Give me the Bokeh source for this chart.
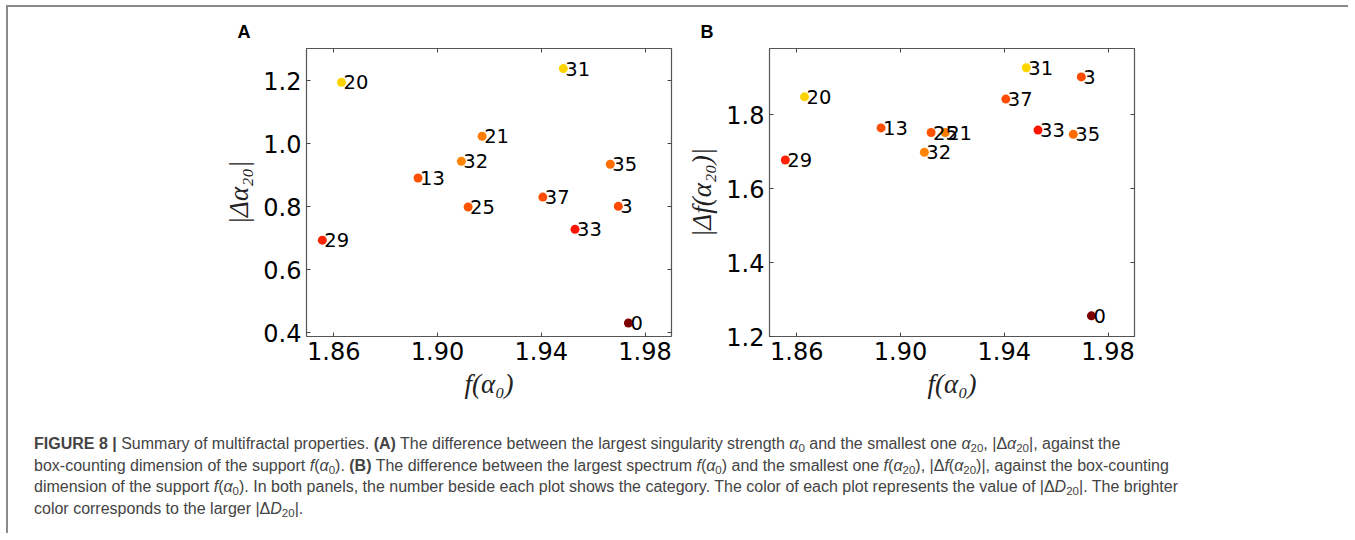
from bokeh.plotting import figure
from bokeh.models import (Range1d, FixedTicker, LinearAxis, Div, ColumnDataSource,
                          PrintfTickFormatter, CustomLabelingPolicy)
from bokeh.layouts import row, column
from bokeh.embed import file_html
from bokeh.resources import INLINE
from bokeh.core.properties import value

# ---- data ----
categories = ["20", "31", "21", "32", "35", "13", "37", "25", "3", "33", "29", "0"]
f_alpha0 = [1.8630, 1.9485, 1.9172, 1.9092, 1.9666, 1.8925, 1.9406, 1.9118, 1.9697, 1.9530, 1.8556, 1.9736]
delta_alpha20 = [1.195, 1.2386, 1.0235, 0.944, 0.9347, 0.891, 0.8303, 0.799, 0.801, 0.728, 0.6935, 0.4303]
delta_f_alpha20 = [1.849, 1.928, 1.7525, 1.699, 1.7475, 1.765, 1.843, 1.7525, 1.903, 1.759, 1.678, 1.256]
colors = ["#fcd200", "#fcd400", "#ff7c00", "#ff8400", "#ff6c00", "#ff5000",
          "#ff4c00", "#ff5400", "#ff4a00", "#ff1400", "#ff2200", "#7d0000"]

x_ticks = [1.86, 1.90, 1.94, 1.98]
ya_ticks = [0.4, 0.6, 0.8, 1.0, 1.2]
yb_ticks = [1.2, 1.4, 1.6, 1.8]

TICK_FONT = "DejaVu Sans"
LABEL_FONT = "Liberation Serif"


def make_panel(letter, yvals, yticks, yrange, ylabel, width, mbl, mbr):
    p = figure(width=width, height=389, output_backend="svg", toolbar_location=None,
               x_range=Range1d(1.8495, 1.9902), y_range=Range1d(*yrange),
               min_border_left=mbl, min_border_right=mbr, min_border_top=0,
               min_border_bottom=70)
    p.grid.visible = False
    p.outline_line_color = "#555555"
    p.outline_line_width = 1.2
    p.background_fill_color = "white"
    p.border_fill_color = "white"

    p.title.text = letter
    p.title.align = "left"
    p.title.offset = -69
    p.title.text_font = "Liberation Sans"
    p.title.text_font_size = "18px"
    p.title.text_font_style = "bold"
    p.title.text_color = "black"
    p.title.standoff = 5

    xt = FixedTicker(ticks=x_ticks)
    yt = FixedTicker(ticks=yticks)
    bottom = p.xaxis[0]
    left = p.yaxis[0]
    bottom.ticker = xt
    left.ticker = yt
    bottom.formatter = PrintfTickFormatter(format="%.2f")
    left.formatter = PrintfTickFormatter(format="%.1f")
    bottom.axis_label = "f(α₀)"
    left.axis_label = ylabel

    hide = CustomLabelingPolicy(code="return new Set()")
    top = LinearAxis(ticker=xt, major_label_policy=hide, major_label_standoff=0,
                     major_label_text_font_size="1px")
    right = LinearAxis(ticker=yt, major_label_policy=hide, major_label_standoff=0,
                       major_label_text_font_size="1px")
    p.add_layout(top, "above")
    p.add_layout(right, "right")

    for ax in [bottom, left, top, right]:
        ax.major_tick_in = 4
        ax.major_tick_out = 0
        ax.minor_tick_line_color = None
        ax.axis_line_color = None
        ax.major_tick_line_color = "#444444"
        ax.major_tick_line_width = 1
    for ax in [bottom, left]:
        ax.major_label_text_font = TICK_FONT
        ax.major_label_text_font_size = "24px"
        ax.major_label_text_color = "black"
        ax.major_label_standoff = 5
        ax.axis_label_text_font = LABEL_FONT
        ax.axis_label_text_font_style = "italic"
        ax.axis_label_text_font_size = "27px"
        ax.axis_label_text_color = "#222222"
        ax.axis_label_standoff = 6

    src = ColumnDataSource(dict(x=f_alpha0, y=yvals, cat=categories, c=colors))
    p.scatter("x", "y", source=src, size=9, fill_color="c", line_color=None)
    p.text("x", "y", text="cat", source=src, x_offset=2, y_offset=0,
           text_font=value(TICK_FONT), text_font_size="19.5px",
           text_baseline="alphabetic", text_align="left", text_color="black")
    return p


pA = make_panel("A", delta_alpha20, ya_ticks, (0.3875, 1.3024), "|Δα₂₀|", 673, 298, 10)
pB = make_panel("B", delta_f_alpha20, yb_ticks, (1.2, 1.98), "|Δf(α₂₀)|", 479, 88, 26)

A = '<i>α</i>'
sub = lambda s: '<sub style="font-size:72%;vertical-align:-0.3em;line-height:0">' + s + '</sub>'
lines = [
    '<b>FIGURE 8 |</b> Summary of multifractal properties. <b>(A)</b> The difference between the largest singularity strength '
    + A + sub('0') + ' and the smallest one ' + A + sub('20') + ', |Δ' + A + sub('20') + '|, against the',
    'box-counting dimension of the support <i>f</i>(' + A + sub('0') + '). <b>(B)</b> The difference between the largest spectrum <i>f</i>('
    + A + sub('0') + ') and the smallest one <i>f</i>(' + A + sub('20') + '), |Δ<i>f</i>(' + A + sub('20') + ')|, against the box-counting',
    'dimension of the support <i>f</i>(' + A + sub('0') + '). In both panels, the number beside each plot shows the category. The color of each plot represents the value of |Δ<i>D</i>'
    + sub('20') + '|. The brighter',
    'color corresponds to the larger |Δ<i>D</i>' + sub('20') + '|.',
]
caption = Div(
    text='<div style="font-family:\'Liberation Sans\',Arial,sans-serif;font-size:16px;line-height:21.5px;'
         'color:#444444;white-space:nowrap;padding:22px 0 0 21px;">' + '<br>'.join(lines) + '</div>',
    width=1330, height=117)

plots = row(pA, pB, styles={"margin-top": "10px"})
layout = column(plots, caption,
                styles={"margin-left": "6px", "margin-top": "5px",
                        "border-left": "2px solid #8a8a8a", "border-top": "2px solid #8a8a8a"})

open("out.html", "w").write(file_html(layout, INLINE))
